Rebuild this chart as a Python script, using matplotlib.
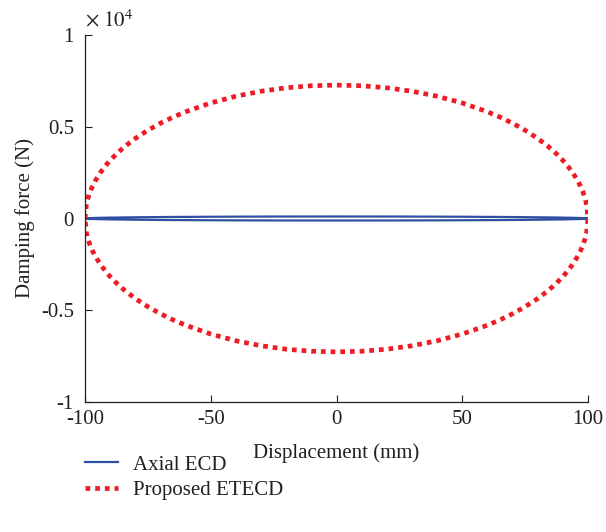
import matplotlib
matplotlib.use("Agg")
import matplotlib.pyplot as plt

plt.rcParams['font.family'] = ['Liberation Serif', 'DejaVu Serif']
plt.rcParams['mathtext.fontset'] = 'stix'
plt.rcParams['axes.unicode_minus'] = False

# displacement (mm) along the upper branch of the loops, left to right
disp = [-100, -99.5, -99, -98, -97, -96, -94, -92, -90, -87, -84, -80, -75, -70,
        -65, -60, -50, -40, -30, -20, -10, 0, 10, 20, 30, 40, 50, 60, 65, 70,
        75, 80, 84, 87, 90, 92, 94, 96, 97, 98, 99, 99.5, 100]

# damping force (N), upper branch
etecd_upper = [0, 726, 1026, 1447, 1767, 2036, 2481, 2849, 3169, 3585, 3945, 4362,
               4808, 5192, 5525, 5816, 6296, 6663, 6935, 7123, 7234, 7270, 7234,
               7123, 6935, 6663, 6296, 5816, 5525, 5192, 4808, 4362, 3945, 3585,
               3169, 2849, 2481, 2036, 1767, 1447, 1026, 726, 0]
axial_upper = [0, 11, 15, 22, 27, 31, 37, 43, 48, 54, 60, 66, 73, 79, 84, 88, 95,
               101, 105, 108, 109, 110, 109, 108, 105, 101, 95, 88, 84, 79, 73, 66,
               60, 54, 48, 43, 37, 31, 27, 22, 15, 11, 0]

# lower branch read back right to left
disp_loop = disp + disp[::-1]
etecd_loop = etecd_upper + [-f for f in etecd_upper[::-1]]
axial_loop = axial_upper + [-f for f in axial_upper[::-1]]

xticks = [-100, -50, 0, 50, 100]
yticks = [-1e4, -0.5e4, 0, 0.5e4, 1e4]
ytick_labels = ['-1', '-0.5', '0', '0.5', '1']

txt = '#231f20'
fs = 15

fig = plt.figure(figsize=(6.06, 5.32), dpi=100)
ax = fig.add_axes([85 / 606, 1 - 402 / 532, (588 - 85) / 606, (402 - 35) / 532])

ax.plot(disp_loop, axial_loop, color='#2f4fa2', lw=1.6, label='Axial ECD')
ax.plot(disp_loop, etecd_loop, color='#ee1c25', lw=3.4, linestyle=(0, (1, 1.05)),
        dash_capstyle='butt', label='Proposed ETECD')

ax.set_xlim(-100, 100)
ax.set_ylim(-1e4, 1e4)
ax.set_xticks(xticks)
ax.set_xticklabels([str(v) for v in xticks])
ax.set_yticks(yticks)
ax.set_yticklabels(ytick_labels)
ax.tick_params(direction='in', length=5, width=0.8, labelsize=fs, colors=txt,
               labelcolor=txt)
ax.tick_params(axis='x', pad=6)
ax.tick_params(axis='y', pad=8)
ax.spines['top'].set_visible(False)
ax.spines['right'].set_visible(False)
for s in ['left', 'bottom']:
    ax.spines[s].set_color(txt)
    ax.spines[s].set_linewidth(0.9)

ax.set_xlabel('Displacement (mm)', fontsize=fs, color=txt, labelpad=10)
ax.set_ylabel('Damping force (N)', fontsize=fs, color=txt, labelpad=4)
ax.text(0.0, 1.01, r'$\times\ 10^4$', transform=ax.transAxes, fontsize=fs,
        color=txt, ha='left', va='bottom')

fig.legend(loc='upper left', bbox_to_anchor=(85 / 606, 1 - 455 / 532),
           frameon=False, fontsize=fs, handlelength=1.6, handletextpad=0.7,
           labelspacing=0.3, borderpad=0, borderaxespad=0, labelcolor=txt)

fig.savefig('out.png', dpi=100)
